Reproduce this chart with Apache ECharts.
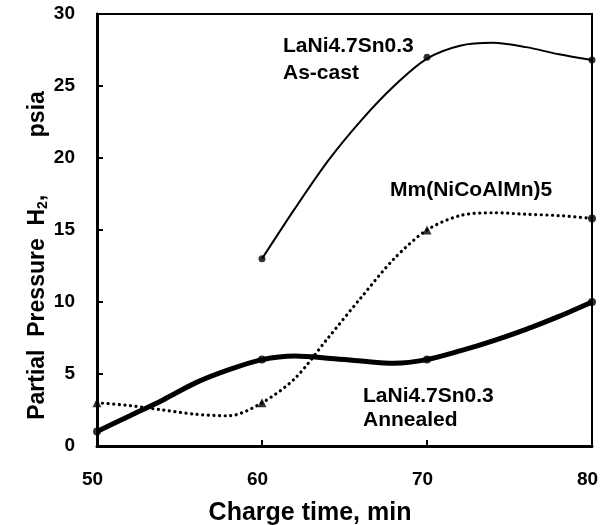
<!DOCTYPE html>
<html><head><meta charset="utf-8">
<script src="https://cdn.jsdelivr.net/npm/echarts@6/dist/echarts.min.js"></script>
<style>html,body{margin:0;padding:0;background:#fff}#c{width:601px;height:525px}</style>
</head><body><div id="c"></div>
<script>
// Marker data (measured points)
const asCastPts = [[60,13],[70,27],[80,26.8]];
const mmPts = [[50,3],[60,3],[70,15],[80,15.8]];
const annealedPts = [[50,1],[60,6],[70,6],[80,10]];
// Curve traces
const asCastCurve = [[60,13],[62,16.5],[64,19.8],[66,22.6],[68,25],[70,26.9],[72,27.8],[74,28],[76,27.7],[78,27.2],[80,26.8]];
const mmCurve = [[50,3],[52,2.8],[54,2.5],[56,2.2],[58,2.1],[60,3],[62,4.7],[64,7.5],[66,10.3],[68,13],[70,15],[72,16],[74,16.2],[76,16.1],[78,16],[80,15.8]];
const annealedCurve = [[50,1],[52,2.1],[54,3.2],[56,4.4],[58,5.3],[60,6],[62,6.25],[64,6.1],[66,5.9],[68,5.75],[70,6],[72,6.6],[74,7.3],[76,8.1],[78,9],[80,10]];
const xTicks = [50,60,70,80];
const yTicks = [0,5,10,15,20,25,30];
const labels = {
  asCast: ['LaNi4.7Sn0.3','As-cast'],
  mm: ['Mm(NiCoAlMn)5'],
  annealed: ['LaNi4.7Sn0.3','Annealed']
};

const FF = '"Liberation Sans", Arial, sans-serif';
const chart = echarts.init(document.getElementById('c'));
const txt = (s, x, y) => ({type:'text', x:x, y:y, style:{text:s, font:'bold 21px ' + FF, fill:'#000', textAlign:'left', textVerticalAlign:'middle'}});
chart.setOption({
  animation:false,
  backgroundColor:'#fff',
  grid:{left:97, right:9, top:14, bottom:79, outerBoundsMode:'none', containLabel:false, show:true, borderColor:'#000', borderWidth:2, backgroundColor:'transparent'},
  xAxis:{type:'value', min:xTicks[0], max:xTicks[xTicks.length-1], interval:10,
    axisLine:{lineStyle:{color:'#000', width:3}},
    axisTick:{inside:true, length:6, lineStyle:{color:'#000', width:2}},
    axisLabel:{margin:24, color:'#000', fontFamily:FF, fontWeight:'bold', fontSize:19, padding:[0,9,0,0]},
    splitLine:{show:false},
    name:'Charge time, min', nameLocation:'middle', nameGap:55, nameMoveOverlap:false,
    nameTextStyle:{fontFamily:FF, fontWeight:'bold', fontSize:25, color:'#000', padding:[0,69,0,0]}
  },
  yAxis:{type:'value', min:yTicks[0], max:yTicks[yTicks.length-1], interval:5,
    axisLine:{lineStyle:{color:'#000', width:3}},
    axisTick:{inside:true, length:6, lineStyle:{color:'#000', width:2}},
    axisLabel:{margin:22, color:'#000', fontFamily:FF, fontWeight:'bold', fontSize:19},
    splitLine:{show:false},
    name:'Partial  Pressure  H{s|2},         psia', nameLocation:'middle', nameGap:46, nameMoveOverlap:false,
    nameTextStyle:{fontFamily:FF, fontWeight:'bold', fontSize:23, color:'#000', padding:[0,51,0,0], lineHeight:26,
      rich:{s:{fontFamily:FF, fontWeight:'bold', fontSize:14, color:'#000', padding:[11,0,0,0]}}}
  },
  series:[
    {type:'line', data:annealedCurve, smooth:0.3, showSymbol:false, symbol:'none', lineStyle:{color:'#000', width:5}, z:3},
    {type:'line', data:asCastCurve, smooth:0.3, showSymbol:false, symbol:'none', lineStyle:{color:'#000', width:2}, z:3},
    {type:'line', data:mmCurve, smooth:0.3, showSymbol:false, symbol:'none', lineStyle:{color:'#000', width:3.2, type:[0.1,5.5], cap:'round'}, z:3},
    {type:'scatter', data:asCastPts, symbol:'circle', symbolSize:7, itemStyle:{color:'#000'}, z:4},
    {type:'scatter', data:annealedPts, symbol:'circle', symbolSize:8, itemStyle:{color:'#000'}, z:4},
    {type:'scatter', data:mmPts.slice(0,3), symbol:'triangle', symbolSize:9, itemStyle:{color:'#000'}, z:4},
    {type:'scatter', data:mmPts.slice(3), symbol:'circle', symbolSize:8, itemStyle:{color:'#000'}, z:4}
  ],
  graphic:[
    txt(labels.asCast[0], 283, 46), txt(labels.asCast[1], 283, 73),
    txt(labels.mm[0], 390, 190),
    txt(labels.annealed[0], 363, 396), txt(labels.annealed[1], 363, 420)
  ]
});
</script></body></html>
